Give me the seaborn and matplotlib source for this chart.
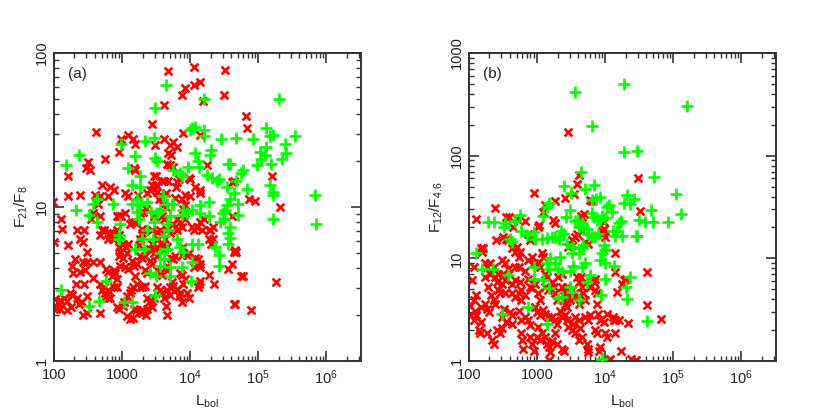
import numpy as np
import pandas as pd
import matplotlib
matplotlib.use("Agg")
import matplotlib.pyplot as plt
import matplotlib.ticker as mticker
import seaborn as sns

# values, stored as log10(L_bol), log10(ratio)
a_green_logL = [3.64, 3.49, 4.21, 5.31, 4.03, 4.07, 4.00, 4.21, 4.20, 5.11, 5.22, 5.18, 5.54, 4.92,
                4.67, 4.46, 3.47, 3.33, 2.98, 2.36, 2.17, 3.19, 3.48, 3.52, 4.07, 4.30, 4.29, 5.03,
                5.40, 5.41, 5.11, 5.10, 5.35, 5.04, 4.98, 5.19, 4.56, 4.59, 4.11, 4.13, 3.97, 3.09,
                3.27, 3.75, 3.85, 3.88, 4.25, 4.32, 4.40, 4.42, 4.78, 4.74, 4.68, 4.54, 4.83, 5.18,
                5.21, 5.22, 5.84, 5.85, 5.22, 4.64, 4.59, 4.54, 4.51, 4.49, 4.70, 4.71, 4.50, 4.44,
                4.59, 4.56, 4.27, 4.27, 4.15, 4.14, 4.02, 3.95, 3.90, 3.88, 3.75, 3.73, 3.66, 3.60,
                3.56, 3.51, 3.36, 3.43, 3.47, 3.22, 3.26, 3.14, 3.14, 3.26, 2.87, 2.58, 2.63, 2.52,
                2.32, 2.63, 2.97, 2.96, 2.96, 3.19, 3.32, 3.29, 3.46, 3.61, 3.66, 3.80, 3.85, 3.90,
                4.02, 4.12, 4.37, 4.43, 4.42, 4.56, 4.58, 3.56, 3.61, 3.55, 3.71, 3.88, 4.02, 3.41,
                3.71, 3.50, 2.77, 4.01, 3.49, 2.10, 2.66, 2.52, 3.03, 3.14, 3.22, 3.25, 3.71, 3.66,
                3.68, 3.36]
a_green_logR = [1.79, 1.64, 1.70, 1.70, 1.51, 1.52, 1.50, 1.50, 1.46, 1.51, 1.47, 1.46, 1.46, 1.44,
                1.45, 1.44, 1.45, 1.43, 1.41, 1.34, 1.27, 1.33, 1.32, 1.30, 1.35, 1.37, 1.34, 1.36,
                1.41, 1.35, 1.39, 1.34, 1.31, 1.31, 1.27, 1.28, 1.28, 1.28, 1.30, 1.26, 1.26, 1.25,
                1.20, 1.24, 1.22, 1.20, 1.21, 1.19, 1.17, 1.18, 1.24, 1.22, 1.17, 1.13, 1.12, 1.14,
                1.10, 1.08, 1.08, 0.89, 0.92, 1.09, 1.05, 1.01, 0.98, 0.96, 1.02, 0.95, 0.92, 0.90,
                0.87, 0.83, 1.03, 0.94, 1.01, 0.96, 0.98, 0.96, 0.98, 0.95, 1.02, 1.02, 1.02, 1.07,
                0.98, 0.96, 1.03, 0.97, 0.90, 1.05, 1.01, 1.02, 1.14, 1.13, 1.02, 1.02, 1.05, 0.95,
                0.98, 0.90, 0.89, 0.82, 0.79, 0.73, 0.73, 0.79, 0.79, 0.81, 0.73, 0.79, 0.74, 0.71,
                0.76, 0.76, 0.74, 0.69, 0.62, 0.76, 0.80, 0.70, 0.66, 0.62, 0.61, 0.61, 0.64, 0.57,
                0.55, 0.55, 0.52, 0.52, 0.43, 0.46, 0.39, 0.36, 0.38, 0.38, 0.97, 0.92, 0.94, 0.89,
                0.85, 0.85]

a_red_logL = [3.68, 4.06, 4.51, 4.05, 4.15, 3.93, 3.88, 4.19, 4.50, 3.61, 3.44, 2.61, 4.82, 4.83,
              4.15, 3.89, 3.09, 2.98, 3.16, 3.19, 3.62, 3.75, 3.70, 3.80, 3.68, 3.72, 2.95, 3.49,
              2.50, 2.47, 2.53, 2.75, 2.20, 3.17, 3.19, 3.47, 3.50, 3.66, 3.71, 3.75, 4.25, 4.62,
              4.64, 5.20, 2.21, 2.38, 2.60, 2.68, 2.70, 2.82, 2.88, 2.64, 2.79, 3.04, 3.09, 3.23,
              3.37, 3.41, 3.44, 3.51, 3.55, 3.54, 3.65, 3.78, 3.88, 3.93, 4.00, 4.14, 4.14, 4.86,
              4.96, 5.32, 1.99, 2.00, 2.11, 2.12, 2.21, 2.34, 2.44, 2.38, 2.42, 2.48, 2.49, 2.42,
              2.31, 2.27, 2.28, 2.38, 2.45, 2.32, 2.44, 2.11, 2.15, 2.06, 2.19, 2.09, 2.19, 2.25,
              2.34, 2.41, 2.37, 2.49, 2.43, 2.49, 2.57, 2.67, 2.70, 2.57, 2.67, 2.54, 2.58, 2.68,
              2.70, 2.68, 2.74, 2.82, 2.86, 2.80, 2.87, 2.77, 2.80, 2.88, 2.90, 2.85, 2.92, 2.73,
              2.75, 2.80, 2.79, 2.82, 2.76, 2.88, 2.92, 2.93, 2.96, 3.02, 3.07, 3.12, 3.16, 3.03,
              3.07, 3.11, 2.95, 2.92, 2.98, 3.04, 2.92, 2.96, 2.95, 2.97, 3.02, 3.06, 3.09, 2.95,
              3.02, 3.07, 2.97, 3.04, 3.09, 3.14, 3.17, 3.22, 3.12, 3.14, 3.19, 3.26, 3.31, 3.35,
              3.29, 3.30, 3.26, 3.25, 3.26, 3.29, 3.34, 3.19, 3.22, 3.26, 3.30, 3.34, 3.16, 3.13,
              3.17, 3.21, 3.26, 3.31, 3.35, 3.30, 3.36, 3.40, 3.44, 3.34, 3.36, 3.41, 3.44, 3.46,
              3.51, 3.41, 3.44, 3.47, 3.52, 3.53, 3.58, 3.61, 3.63, 3.66, 3.51, 3.55, 3.66, 3.70,
              3.75, 3.44, 3.47, 3.47, 3.58, 3.61, 3.49, 3.50, 3.58, 3.61, 3.68, 3.60, 3.65, 3.79,
              3.80, 3.83, 3.98, 4.00, 4.07, 3.93, 3.89, 3.81, 3.85, 3.80, 3.88, 3.93, 4.02, 4.06,
              4.10, 4.15, 4.21, 4.18, 4.27, 4.29, 4.34, 4.27, 4.30, 4.34, 4.62, 4.64, 4.55, 4.62,
              4.66, 4.67, 4.74, 4.77, 4.64, 4.66, 4.89, 5.26, 4.35, 4.27, 4.14, 4.15, 4.07, 4.05,
              4.15, 4.11, 4.13, 3.90, 3.88, 3.85, 3.88, 3.93, 3.90, 3.73, 3.75, 3.71, 3.66, 3.71,
              3.80, 3.85, 3.84, 3.95, 3.98, 3.88, 3.64, 3.66, 3.51, 3.55, 3.58, 3.61, 3.47, 3.44,
              3.37, 3.51, 3.55, 3.58, 3.66, 3.66, 3.75, 3.78, 3.72, 3.95, 3.98, 4.12, 2.01, 2.03,
              2.24, 2.26, 2.68]
a_red_logR = [1.88, 1.91, 1.89, 1.79, 1.81, 1.77, 1.73, 1.69, 1.73, 1.66, 1.54, 1.49, 1.59, 1.51,
              1.47, 1.48, 1.47, 1.44, 1.44, 1.41, 1.44, 1.42, 1.40, 1.39, 1.35, 1.34, 1.36, 1.40,
              1.29, 1.25, 1.24, 1.31, 1.20, 1.25, 1.24, 1.20, 1.20, 1.28, 1.27, 1.26, 1.27, 1.16,
              1.17, 1.20, 1.07, 1.08, 1.08, 1.07, 1.14, 1.13, 1.11, 1.02, 1.07, 1.09, 1.07, 1.08,
              1.09, 1.11, 1.14, 1.10, 1.08, 1.05, 1.09, 1.06, 1.05, 1.08, 1.07, 1.11, 1.09, 1.05,
              1.04, 1.00, 1.03, 0.77, 0.92, 0.86, 0.75, 0.85, 0.85, 0.79, 0.77, 0.71, 0.64, 0.64,
              0.66, 0.62, 0.57, 0.58, 0.59, 0.50, 0.50, 0.39, 0.41, 0.38, 0.39, 0.34, 0.33, 0.35,
              0.41, 0.38, 0.37, 0.42, 0.30, 0.31, 0.54, 0.50, 0.46, 0.64, 0.64, 0.92, 0.96, 0.94,
              0.85, 0.82, 0.85, 0.83, 0.83, 0.79, 0.79, 0.60, 0.58, 0.59, 0.57, 0.55, 0.53, 0.48,
              0.44, 0.46, 0.41, 0.41, 0.42, 0.48, 0.48, 0.35, 0.34, 0.36, 0.29, 0.27, 0.28, 0.38,
              0.42, 0.44, 0.94, 0.94, 0.94, 0.96, 0.85, 0.82, 0.74, 0.71, 0.76, 0.74, 0.76, 0.68,
              0.67, 0.70, 0.62, 0.61, 0.60, 0.65, 0.62, 0.63, 0.89, 0.90, 0.90, 0.96, 0.97, 0.99,
              0.86, 0.83, 0.79, 0.75, 0.68, 0.67, 0.68, 0.55, 0.50, 0.48, 0.48, 0.49, 0.48, 0.46,
              0.34, 0.33, 0.32, 0.33, 0.30, 0.31, 0.34, 0.38, 0.35, 0.59, 0.57, 0.73, 0.76, 0.73,
              0.74, 0.65, 0.63, 0.70, 0.68, 0.79, 0.75, 0.72, 0.79, 0.74, 0.84, 0.85, 0.85, 0.83,
              0.89, 0.85, 0.94, 0.96, 0.94, 0.92, 1.12, 1.14, 1.17, 1.17, 1.17, 1.01, 1.00, 1.13,
              1.16, 1.18, 1.19, 1.18, 1.13, 1.01, 0.99, 0.92, 0.90, 0.85, 0.87, 0.92, 0.87, 0.85,
              0.87, 0.90, 0.92, 0.85, 0.85, 0.85, 0.87, 0.79, 0.76, 0.79, 0.94, 0.71, 0.60, 0.63,
              0.72, 0.71, 0.55, 0.55, 0.37, 0.37, 0.33, 0.51, 0.50, 0.56, 0.61, 0.63, 0.67, 0.61,
              0.52, 0.48, 0.50, 0.74, 0.69, 0.57, 0.56, 0.53, 0.50, 0.51, 0.49, 0.48, 0.46, 0.43,
              0.47, 0.44, 0.42, 0.44, 0.41, 0.38, 0.36, 0.30, 0.48, 0.46, 0.44, 0.41, 0.41, 0.39,
              0.41, 0.59, 0.57, 0.56, 0.59, 0.62, 0.66, 0.68, 0.67, 0.69, 0.70, 0.66, 0.40, 0.34,
              0.44, 0.43, 0.31]

b_green_logL = [4.28, 3.55, 5.20, 3.80, 4.27, 4.47, 3.65, 4.72, 5.04, 5.11, 3.40, 3.50, 3.70, 3.84,
                3.92, 3.86, 3.80, 4.32, 4.37, 4.42, 4.27, 4.05, 4.10, 4.03, 4.68, 4.71, 4.58, 4.50,
                4.92, 4.47, 4.45, 4.24, 4.21, 4.17, 4.25, 4.14, 4.12, 3.48, 3.43, 3.18, 3.14, 3.08,
                2.75, 2.67, 2.53, 2.52, 2.28, 2.36, 2.77, 2.85, 2.96, 2.97, 3.07, 3.14, 3.22, 3.26,
                2.60, 2.63, 3.32, 3.35, 3.39, 3.56, 3.60, 3.61, 3.66, 3.68, 3.73, 3.75, 3.80, 3.83,
                3.88, 3.80, 3.85, 3.89, 3.93, 3.95, 4.00, 3.98, 4.00, 3.96, 3.93, 4.00, 4.13, 3.68,
                3.66, 3.61, 3.53, 3.51, 3.44, 3.34, 3.26, 3.31, 3.19, 3.14, 3.17, 2.96, 2.95, 3.09,
                3.17, 3.71, 3.66, 3.53, 3.49, 3.36, 3.73, 3.78, 3.49, 3.51, 3.31, 3.36, 3.61, 3.94,
                4.00, 4.30, 4.32, 4.37, 2.19, 2.35, 2.11, 2.58, 3.14, 2.49, 4.62, 2.87, 3.96]
b_green_logR = [2.70, 2.62, 2.48, 2.29, 2.04, 2.05, 1.84, 1.79, 1.63, 1.43, 1.70, 1.64, 1.68, 1.71,
                1.60, 1.58, 1.57, 1.62, 1.53, 1.58, 1.54, 1.52, 1.45, 1.50, 1.47, 1.35, 1.35, 1.37,
                1.35, 1.22, 1.22, 1.36, 1.34, 1.27, 1.22, 1.22, 1.27, 1.47, 1.40, 1.54, 1.50, 1.41,
                1.42, 1.36, 1.34, 1.31, 1.35, 1.35, 1.27, 1.23, 1.26, 1.19, 1.19, 1.20, 1.21, 1.21,
                1.19, 1.16, 1.19, 1.27, 1.24, 1.36, 1.37, 1.31, 1.34, 1.31, 1.29, 1.24, 1.44, 1.40,
                1.37, 1.21, 1.21, 1.24, 1.37, 1.41, 1.39, 1.13, 1.08, 1.05, 0.98, 0.95, 0.93, 1.13,
                1.10, 1.05, 1.11, 1.05, 1.14, 1.01, 0.95, 0.90, 1.00, 0.95, 0.90, 0.92, 0.80, 0.79,
                0.71, 0.95, 0.92, 0.93, 0.88, 0.87, 0.77, 0.84, 0.72, 0.67, 0.61, 0.62, 0.59, 0.64,
                0.80, 0.72, 0.60, 0.82, 0.90, 0.90, 1.05, 0.84, 0.36, 0.46, 0.39, 0.53, 0.02]

b_red_logL = [3.46, 4.49, 3.62, 3.58, 2.95, 3.54, 3.78, 3.80, 3.41, 3.26, 3.12, 3.09, 4.51, 2.38,
              2.39, 2.11, 2.54, 2.59, 2.65, 2.70, 2.82, 3.03, 3.02, 3.24, 3.26, 3.64, 3.66, 3.69,
              3.95, 3.97, 4.00, 3.46, 3.51, 3.51, 3.55, 3.58, 3.66, 3.71, 3.75, 2.87, 2.90, 2.70,
              2.75, 2.63, 2.68, 2.73, 2.50, 2.54, 2.58, 2.18, 2.19, 2.21, 2.08, 2.04, 2.11, 2.08,
              2.24, 2.31, 2.28, 2.38, 2.41, 2.48, 2.43, 2.50, 2.53, 2.43, 2.46, 2.53, 2.33, 2.36,
              2.38, 2.24, 2.26, 2.29, 2.09, 2.11, 2.08, 2.18, 2.14, 2.16, 2.01, 2.01, 2.26, 2.34,
              2.36, 2.41, 2.46, 2.49, 2.48, 2.55, 2.63, 2.52, 2.60, 2.63, 2.63, 2.68, 2.73, 2.63,
              2.68, 2.75, 2.58, 2.68, 2.73, 2.82, 2.77, 2.82, 2.77, 2.73, 2.77, 2.82, 2.77, 2.78,
              2.80, 2.90, 2.92, 2.95, 2.87, 2.90, 2.87, 2.92, 2.95, 2.87, 2.90, 2.93, 2.97, 3.02,
              3.04, 2.97, 3.00, 3.04, 3.02, 3.00, 3.04, 3.07, 3.12, 3.02, 3.04, 3.07, 3.09, 3.12,
              3.14, 3.12, 3.16, 3.09, 3.12, 3.16, 3.14, 3.17, 3.19, 3.22, 3.17, 3.22, 3.25, 3.26,
              3.29, 3.22, 3.26, 3.30, 3.26, 3.29, 3.36, 3.39, 3.31, 3.36, 3.36, 3.39, 3.39, 3.41,
              3.44, 3.33, 3.36, 3.41, 3.44, 3.46, 3.49, 3.51, 3.41, 3.46, 3.49, 3.52, 3.44, 3.46,
              3.51, 3.53, 3.56, 3.61, 3.63, 3.56, 3.61, 3.66, 3.58, 3.61, 3.65, 3.56, 3.58, 3.61,
              3.66, 3.68, 3.71, 3.73, 3.75, 3.75, 3.71, 3.75, 3.78, 3.78, 3.83, 3.85, 3.85, 3.88,
              3.88, 3.90, 3.93, 3.85, 3.88, 3.93, 3.91, 3.98, 4.00, 4.02, 4.02, 4.12, 4.15, 4.05,
              4.07, 4.15, 4.13, 4.20, 4.23, 4.33, 4.38, 4.17, 4.25, 4.27, 4.15, 4.15, 4.31, 4.62,
              4.62, 4.82, 4.45, 3.98, 3.98, 2.24, 2.26, 2.31, 2.48, 2.53, 2.36, 2.17]
b_red_logR = [2.23, 1.78, 1.81, 1.72, 1.64, 1.63, 1.57, 1.56, 1.59, 1.56, 1.52, 1.45, 1.46, 1.49,
              1.18, 1.38, 1.40, 1.40, 1.31, 1.38, 1.36, 1.32, 1.31, 1.37, 1.34, 1.41, 1.40, 1.43,
              1.27, 1.24, 1.21, 1.11, 1.13, 1.18, 1.21, 1.24, 1.27, 1.16, 1.14, 1.24, 1.18, 1.11,
              1.06, 1.10, 1.06, 1.01, 1.21, 1.19, 1.18, 1.10, 1.06, 1.10, 0.92, 0.79, 0.64, 0.59,
              0.82, 0.85, 0.72, 0.82, 0.77, 0.75, 0.85, 0.85, 0.79, 0.69, 0.66, 0.66, 0.64, 0.59,
              0.56, 0.56, 0.51, 0.48, 0.49, 0.45, 0.40, 0.38, 0.30, 0.27, 0.54, 0.45, 0.27, 0.20,
              0.17, 0.30, 0.27, 0.32, 0.43, 0.38, 0.36, 0.51, 0.48, 0.45, 0.66, 0.62, 0.66, 0.75,
              0.79, 0.77, 0.90, 0.92, 0.92, 0.88, 0.69, 0.64, 0.59, 0.49, 0.40, 0.43, 0.27, 0.20,
              0.12, 0.23, 0.17, 0.10, 0.40, 0.35, 0.98, 1.01, 0.95, 0.80, 0.72, 0.71, 0.75, 0.66,
              0.59, 0.53, 0.48, 0.45, 0.33, 0.23, 0.20, 0.27, 0.23, 0.95, 0.92, 1.05, 1.01, 0.85,
              0.82, 0.72, 0.69, 0.50, 0.46, 0.43, 0.17, 0.14, 0.09, 0.19, 0.01, 0.77, 0.72, 0.66,
              0.59, 0.43, 0.40, 0.36, 0.27, 0.17, 0.12, 0.10, 0.82, 0.85, 0.72, 0.69, 0.59, 0.56,
              0.53, 0.49, 0.43, 0.45, 0.72, 0.69, 0.66, 0.69, 0.66, 0.62, 0.59, 0.62, 0.40, 0.33,
              0.30, 0.36, 0.43, 0.40, 0.32, 0.27, 0.20, 0.23, 0.82, 0.77, 0.82, 0.66, 0.62, 0.56,
              0.72, 0.66, 0.59, 0.17, 0.12, 0.09, 0.43, 0.40, 0.45, 0.72, 0.77, 0.80, 0.69, 0.66,
              0.56, 0.46, 0.40, 0.30, 0.27, 0.14, 0.10, 0.38, 0.27, 0.23, 0.46, 0.43, 0.40, 0.01,
              0.02, 0.27, 0.40, 0.40, 0.10, 0.37, 0.02, 0.67, 0.75, 0.79, 0.87, 1.05, 0.80, 0.87,
              0.55, 0.41, 0.01, 1.35, 1.29, 0.95, 0.92, 0.95, 0.98, 0.95, 0.92, 0.53]

RED = "#ff0000"
GREEN = "#00ff00"

sns.set_style("ticks")
plt.rcParams["font.family"] = ["Liberation Sans", "DejaVu Sans"]
plt.rcParams["mathtext.fontset"] = "custom"
plt.rcParams["mathtext.rm"] = "Liberation Sans"
plt.rcParams["mathtext.it"] = "Liberation Sans"


def to_df(logL, logR):
    return pd.DataFrame({"L": 10 ** np.array(logL), "R": 10 ** np.array(logR)})


fig = plt.figure(figsize=(8.3, 4.15), dpi=100)
ax_a = fig.add_axes([54 / 830, 54 / 415, 307 / 830, 308 / 415])
ax_b = fig.add_axes([469 / 830, 54 / 415, 307 / 830, 308 / 415])

panels = [
    (ax_a, a_red_logL, a_red_logR, a_green_logL, a_green_logR, 100, "(a)", r"F$_{21}$/F$_8$"),
    (ax_b, b_red_logL, b_red_logR, b_green_logL, b_green_logR, 1000, "(b)", r"F$_{12}$/F$_{4.6}$"),
]

xlabels = {100: "100", 1000: "1000", 1e4: r"10$^4$", 1e5: r"10$^5$", 1e6: r"10$^6$"}

for ax, rL, rR, gL, gR, ytop, tag, ylab in panels:
    sns.scatterplot(data=to_df(rL, rR), x="L", y="R", marker="x", color=RED,
                    s=32, linewidth=1.9, ax=ax, zorder=2)
    sns.scatterplot(data=to_df(gL, gR), x="L", y="R", marker="+", color=GREEN,
                    s=65, linewidth=1.9, ax=ax, zorder=3)
    ax.set_xscale("log")
    ax.set_yscale("log")
    ax.set_xlim(100, 10 ** 6.51)
    ax.set_ylim(1, ytop)

    ax.xaxis.set_major_locator(mticker.FixedLocator(list(xlabels)))
    ax.xaxis.set_major_formatter(mticker.FixedFormatter(list(xlabels.values())))
    yt = [1, 10, 100, 1000][: 3 if ytop == 100 else 4]
    ax.yaxis.set_major_locator(mticker.FixedLocator(yt))
    ax.yaxis.set_major_formatter(mticker.FixedFormatter([str(v) for v in yt]))
    ax.xaxis.set_minor_locator(mticker.LogLocator(base=10, subs=np.arange(2, 10), numticks=20))
    ax.yaxis.set_minor_locator(mticker.LogLocator(base=10, subs=np.arange(2, 10), numticks=20))
    ax.xaxis.set_minor_formatter(mticker.NullFormatter())
    ax.yaxis.set_minor_formatter(mticker.NullFormatter())

    ax.tick_params(which="both", direction="in", top=True, right=True, color="#333333",
                   labelsize=10.5, labelcolor="#222222")
    ax.tick_params(which="major", length=7, width=1.2)
    ax.tick_params(which="minor", length=3.5, width=1.0)
    ax.tick_params(axis="x", pad=5)
    ax.tick_params(axis="y", pad=4)
    for lbl in ax.get_yticklabels():
        lbl.set_rotation(90)
        lbl.set_va("center")
    for sp in ax.spines.values():
        sp.set_linewidth(1.4)
        sp.set_color("#333333")

    ax.text(0.045, 0.955, tag, transform=ax.transAxes, fontsize=11, va="top", ha="left",
            color="#222222")
    ax.set_xlabel(r"L$_{\rm bol}$", fontsize=11, labelpad=5, color="#222222")
    ax.set_ylabel(ylab, fontsize=11, labelpad=3, color="#222222")

fig.savefig("out.png", dpi=100)
